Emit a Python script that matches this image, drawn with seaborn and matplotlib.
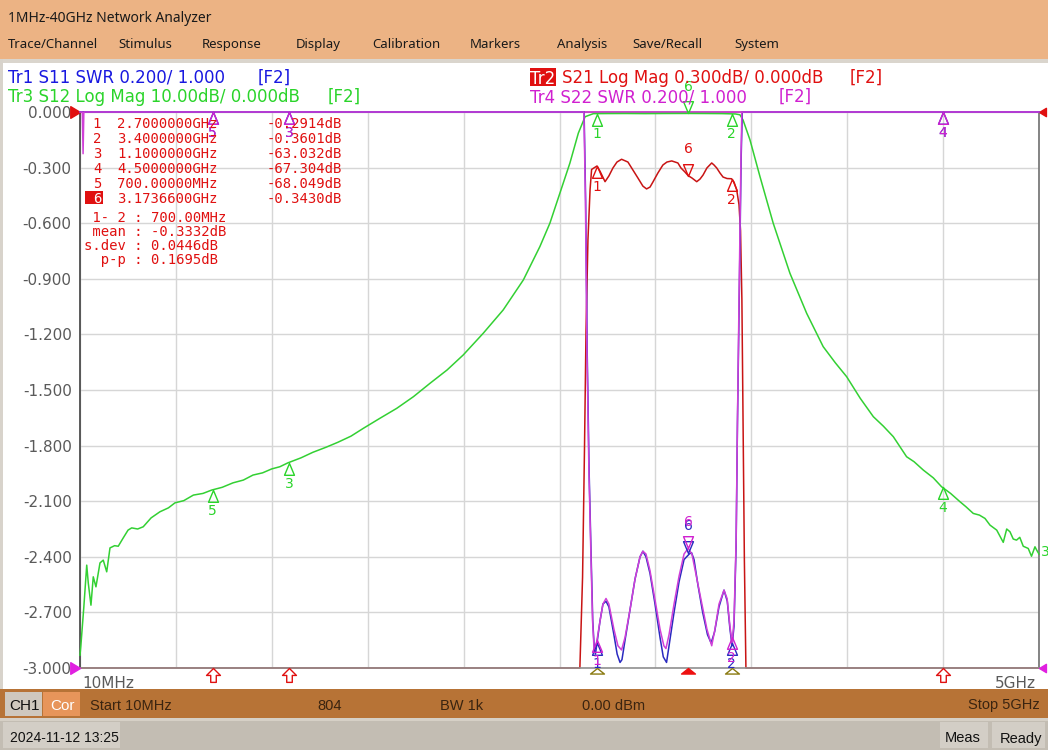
import numpy as np
import matplotlib
matplotlib.use("Agg")
import matplotlib.pyplot as plt
from matplotlib.patches import Rectangle
from matplotlib.path import Path
import seaborn as sns

# ---------------------------
# data
# ---------------------------
# Tr3 S12, Log Mag (dB)
freq_s12 = [0.010, 0.014, 0.030, 0.045, 0.053, 0.067, 0.079, 0.093, 0.114, 0.131,
            0.149, 0.166, 0.190, 0.209, 0.235, 0.260, 0.279, 0.310, 0.339, 0.380,
            0.426, 0.470, 0.504, 0.550, 0.600, 0.650, 0.695, 0.750, 0.806, 0.860,
            0.910, 0.960, 1.007, 1.050, 1.092, 1.160, 1.222, 1.290, 1.352, 1.420,
            1.484, 1.570, 1.658, 1.745, 1.831, 1.920, 2.004, 2.108, 2.212, 2.317,
            2.403, 2.455, 2.507, 2.559, 2.603, 2.638, 2.681, 2.750, 2.850, 2.950,
            3.050, 3.170, 3.250, 3.350, 3.420, 3.444, 3.460, 3.496, 3.548, 3.617,
            3.704, 3.791, 3.877, 3.940, 3.999, 4.070, 4.138, 4.190, 4.242, 4.311,
            4.350, 4.398, 4.450, 4.493, 4.540, 4.589, 4.620, 4.658, 4.690, 4.719,
            4.745, 4.780, 4.814, 4.832, 4.849, 4.866, 4.883, 4.900, 4.918, 4.944,
            4.961, 4.979, 4.988, 5.000]
s12_db = [-97.7, -96.2, -89.0, -81.5, -84.7, -88.7, -83.6, -85.4, -81.1, -80.6,
          -82.7, -78.4, -78.0, -78.1, -76.6, -75.2, -74.8, -75.0, -74.6, -73.0,
          -71.9, -71.2, -70.3, -69.9, -68.9, -68.6, -68.0, -67.5, -66.7, -66.2,
          -65.3, -64.9, -64.2, -63.8, -63.1, -62.2, -61.2, -60.3, -59.4, -58.3,
          -56.9, -55.1, -53.3, -51.2, -48.8, -46.4, -43.7, -39.8, -35.6, -30.2,
          -24.2, -20.0, -14.6, -9.2, -3.8, -0.85, -0.30, -0.28, -0.27, -0.29,
          -0.27, -0.26, -0.27, -0.29, -0.35, -0.5, -1.44, -5.0, -11.6, -20.0,
          -29.0, -36.2, -42.2, -45.1, -47.6, -51.5, -54.8, -56.5, -58.4, -62.0,
          -62.9, -64.4, -65.8, -67.4, -68.6, -70.1, -71.0, -72.2, -72.5, -73.1,
          -74.3, -75.2, -77.4, -75.0, -75.5, -76.8, -77.0, -76.5, -78.1, -78.5,
          -79.9, -78.2, -78.8, -79.5]

# Tr2 S21, Log Mag (dB)
freq_s21 = [0.010, 0.300, 0.700, 1.100, 1.600, 2.000, 2.300, 2.500, 2.580, 2.611,
            2.625, 2.635, 2.643, 2.653, 2.664, 2.672, 2.700, 2.716, 2.742, 2.762,
            2.783, 2.804, 2.828, 2.861, 2.887, 2.913, 2.939, 2.958, 2.976, 2.991,
            3.017, 3.043, 3.064, 3.089, 3.121, 3.137, 3.158, 3.174, 3.194, 3.219,
            3.236, 3.252, 3.272, 3.297, 3.309, 3.323, 3.340, 3.356, 3.377, 3.400,
            3.413, 3.427, 3.439, 3.447, 3.454, 3.460, 3.467, 3.475, 3.520, 3.700,
            4.000, 4.500, 5.000]
s21_db = [-96.0, -75.0, -68.049, -63.032, -55.0, -44.0, -31.0, -17.0, -7.5, -3.0,
          -2.51, -1.82, -1.18, -0.69, -0.42, -0.31, -0.2914, -0.32, -0.376, -0.345,
          -0.302, -0.270, -0.255, -0.270, -0.313, -0.356, -0.400, -0.415, -0.405, -0.378,
          -0.329, -0.286, -0.270, -0.264, -0.275, -0.302, -0.324, -0.343, -0.356, -0.376,
          -0.362, -0.340, -0.302, -0.275, -0.286, -0.302, -0.329, -0.351, -0.359, -0.3601,
          -0.378, -0.420, -0.500, -0.640, -1.01, -1.66, -2.42, -3.0, -9.0, -29.0,
          -48.0, -67.304, -80.0]

# Tr1 S11, SWR
freq_s11 = [0.010, 1.000, 2.000, 2.620, 2.633, 2.641, 2.649, 2.659, 2.670, 2.678,
            2.686, 2.692, 2.700, 2.716, 2.731, 2.747, 2.762, 2.788, 2.805, 2.820,
            2.830, 2.846, 2.872, 2.898, 2.924, 2.939, 2.955, 2.976, 3.002, 3.028,
            3.045, 3.062, 3.075, 3.101, 3.127, 3.153, 3.180, 3.192, 3.205, 3.225,
            3.250, 3.275, 3.294, 3.312, 3.335, 3.361, 3.378, 3.392, 3.403, 3.413,
            3.424, 3.431, 3.440, 3.450, 3.456, 3.470, 4.000, 5.000]
s11_swr = [45.0, 52.0, 38.0, 30.0, 3.6, 2.68, 2.14, 1.71, 1.39, 1.17,
           1.07, 1.05, 1.09, 1.17, 1.23, 1.24, 1.22, 1.12, 1.05, 1.02,
           1.03, 1.10, 1.21, 1.32, 1.40, 1.42, 1.40, 1.34, 1.23, 1.11,
           1.04, 1.02, 1.08, 1.20, 1.31, 1.39, 1.41, 1.415, 1.39, 1.30,
           1.20, 1.12, 1.09, 1.13, 1.22, 1.28, 1.24, 1.14, 1.08, 1.15,
           1.44, 1.88, 2.32, 2.83, 3.1, 30.0, 44.0, 50.0]

# Tr4 S22, SWR
freq_s22 = [0.010, 0.022, 0.026, 0.030, 1.000, 2.000, 2.620, 2.632, 2.640, 2.648,
            2.658, 2.669, 2.677, 2.684, 2.690, 2.700, 2.716, 2.731, 2.747, 2.762,
            2.788, 2.809, 2.828, 2.846, 2.872, 2.898, 2.924, 2.939, 2.955, 2.976,
            3.002, 3.028, 3.048, 3.059, 3.075, 3.101, 3.127, 3.153, 3.174, 3.194,
            3.220, 3.246, 3.272, 3.297, 3.314, 3.335, 3.361, 3.377, 3.392, 3.403,
            3.413, 3.424, 3.431, 3.439, 3.449, 3.454, 3.470, 4.000, 5.000]
s22_swr = [48.0, 46.0, 2.85, 47.0, 55.0, 40.0, 31.0, 3.6, 2.68, 2.14,
           1.71, 1.39, 1.17, 1.08, 1.065, 1.10, 1.17, 1.23, 1.25, 1.23,
           1.14, 1.08, 1.065, 1.11, 1.21, 1.32, 1.40, 1.42, 1.41, 1.35,
           1.245, 1.14, 1.08, 1.07, 1.12, 1.23, 1.33, 1.41, 1.43, 1.41,
           1.32, 1.23, 1.14, 1.08, 1.14, 1.23, 1.28, 1.25, 1.15, 1.09,
           1.17, 1.46, 1.89, 2.32, 2.83, 3.2, 33.0, 45.0, 52.0]

# markers 1..6
marker_ids = ["1", "2", "3", "4", "5", "6"]
marker_freq = [2.7, 3.4, 1.1, 4.5, 0.7, 3.17366]
marker_s21 = [-0.2914, -0.3601, -63.032, -67.304, -68.049, -0.3430]
marker_s12 = [-0.29, -0.29, -63.1, -67.4, -68.0, -0.26]
marker_s11 = [1.09, 1.09, 52.0, 44.0, 47.0, 1.415]
marker_s22 = [1.10, 1.11, 55.0, 45.0, 48.0, 1.43]

marker_freq_txt = ["2.7000000GHz", "3.4000000GHz", "1.1000000GHz",
                   "4.5000000GHz", "700.00000MHz", "3.1736600GHz"]
marker_val_txt = ["-0.2914dB", "-0.3601dB", "-63.032dB",
                  "-67.304dB", "-68.049dB", "-0.3430dB"]
stats_txt = [" 1- 2 : 700.00MHz", " mean : -0.3332dB",
             "s.dev : 0.0446dB", "  p-p : 0.1695dB"]

y_tick_labels = ["-3.000", "-2.700", "-2.400", "-2.100", "-1.800", "-1.500",
                 "-1.200", "-0.900", "-0.600", "-0.300", "0.000"]
menu_items = ["Trace/Channel", "Stimulus", "Response", "Display", "Calibration",
              "Markers", "Analysis", "Save/Recall", "System"]
menu_x = [8, 118, 202, 296, 372, 470, 557, 632, 734]

f_start, f_stop = 0.01, 5.0

# ---------------------------
# colours / helpers
# ---------------------------
W, H = 1048, 750
TITLE_BG = "#ECB384"
STATUS_BG = "#B77336"
BOTTOM_BG = "#C3BDB3"
TR_BLUE = "#2a2ac0"
TR_RED = "#c81414"
TR_GREEN = "#33d033"
TR_MAG = "#d040d8"
TX_BLUE = "#1818e0"
TX_RED = "#e01010"
TX_GREEN = "#2ad42a"
TX_MAG = "#d020d0"
UI_FONT = "Noto Sans"
STAT_FONT = "Liberation Sans"


def fx(x):
    return x / W


def fy(y):
    return 1 - y / H


fig = plt.figure(figsize=(W / 100, H / 100), dpi=100)
fig.patch.set_facecolor("white")


def box(x0, y0, x1, y1, color, zo=1):
    fig.add_artist(Rectangle((fx(x0), fy(y1)), (x1 - x0) / W, (y1 - y0) / H,
                             transform=fig.transFigure, facecolor=color,
                             edgecolor="none", zorder=zo))


def ftext(x, y, s, color="black", size=10, family="DejaVu Sans", ha="left", **kw):
    fig.text(fx(x), fy(y), s, color=color, fontsize=size, family=family,
             ha=ha, va="center_baseline", zorder=5, **kw)


# ---------------------------
# plot area: Tr2 on the main axes, others on twins
# ---------------------------
ax = fig.add_axes([fx(80), fy(668), (1039 - 80) / W, (668 - 112) / H])
ax.set_xlim(f_start, f_stop)
ax.set_ylim(-3.0, 0.0)
ax.set_xticks(np.linspace(f_start, f_stop, 11))
ax.set_yticks(np.linspace(-3.0, 0.0, 11))
ax.set_yticklabels(y_tick_labels, color="#5a5a5a", fontsize=11)
ax.tick_params(axis="y", length=0, pad=6)
ax.tick_params(axis="x", length=0, labelbottom=False)
ax.grid(True, color="#d6d6d6", lw=1)
ax.set_axisbelow(True)
ax.spines["left"].set_color("#404040")
ax.spines["right"].set_color("#707070")
ax.spines["top"].set_color("#c426c4")
ax.spines["bottom"].set_color("#909090")
for sp in ax.spines.values():
    sp.set_linewidth(1.2)

s12ax = ax.twinx()
s12ax.set_ylim(-100, 0)
s12ax.axis("off")
swrax = ax.twinx()
swrax.set_ylim(1.0, 3.0)
swrax.axis("off")

kw = dict(estimator=None, sort=False, legend=False, lw=1.1, clip_on=False)
sns.lineplot(x=freq_s21, y=np.clip(s21_db, -3.0, 0.0), ax=ax, color=TR_RED, **kw)
sns.lineplot(x=freq_s12, y=np.clip(s12_db, -100, 0), ax=s12ax, color=TR_GREEN, **kw)
sns.lineplot(x=freq_s11, y=np.clip(s11_swr, 1.0, 3.0), ax=swrax, color=TR_BLUE, **kw)
sns.lineplot(x=freq_s22, y=np.clip(s22_swr, 1.0, 3.0), ax=swrax, color=TR_MAG, **kw)

# marker glyphs
TRI_DN = Path([(0, 0), (-0.42, -1), (0.42, -1), (0, 0)], closed=True)   # body below point
TRI_UP = Path([(0, 0), (-0.42, 1), (0.42, 1), (0, 0)], closed=True)     # body above point
ARROW = Path([(0, 0), (-0.5, -0.5), (-0.2, -0.5), (-0.2, -1), (0.2, -1),
              (0.2, -0.5), (0.5, -0.5), (0, 0)], closed=True)
FLAT = Path([(0, 0), (-1, -0.8), (1, -0.8), (0, 0)], closed=True)


def draw_markers(a, values, lo, hi, color, below_arrow=False):
    for num, f, v in zip(marker_ids, marker_freq, values):
        vc = min(max(v, lo), hi)
        if below_arrow and v < lo:
            a.plot([f], [lo], marker=ARROW, ms=20, mfc="none", mec=color,
                   mew=1, ls="none", clip_on=False, zorder=6)
            a.annotate(num, (f, lo), xytext=(0, -20), textcoords="offset points",
                       ha="center", va="center", color=color, fontsize=10,
                       annotation_clip=False, zorder=6)
        elif num == "6":
            a.plot([f], [vc], marker=TRI_UP, ms=17, mfc="none", mec=color,
                   mew=1, ls="none", clip_on=False, zorder=6)
            a.annotate(num, (f, vc), xytext=(0, 19), textcoords="offset points",
                       ha="center", va="center", color=color, fontsize=10,
                       annotation_clip=False, zorder=6)
        else:
            a.plot([f], [vc], marker=TRI_DN, ms=17, mfc="none", mec=color,
                   mew=1, ls="none", clip_on=False, zorder=6)
            a.annotate(num, (f, vc), xytext=(0, -15), textcoords="offset points",
                       ha="center", va="center", color=color, fontsize=10,
                       annotation_clip=False, zorder=6)


draw_markers(ax, marker_s21, -3.0, 0.0, TX_RED, below_arrow=True)
draw_markers(s12ax, marker_s12, -100, 0, TX_GREEN)
draw_markers(swrax, marker_s11, 1.0, 3.0, TR_BLUE)
draw_markers(swrax, marker_s22, 1.0, 3.0, TX_MAG)

# marker position flags on the x axis
for num, f in zip(marker_ids, marker_freq):
    if num in ("1", "2"):
        ax.plot([f], [-3.0], marker=FLAT, ms=10, mfc="none", mec="#8a7a10",
                mew=1, ls="none", clip_on=False, zorder=7)
    elif num == "6":
        ax.plot([f], [-3.0], marker=FLAT, ms=10, mfc="#ee1010", mec="#ee1010",
                ls="none", clip_on=False, zorder=7)

# reference position arrows
REF_R = Path([(0, 0), (-1, 0.6), (-1, -0.6), (0, 0)], closed=True)
REF_L = Path([(0, 0), (1, 0.6), (1, -0.6), (0, 0)], closed=True)
ax.plot([0], [1], marker=REF_R, ms=14, color="#e01010", transform=ax.transAxes,
        clip_on=False, zorder=7)
ax.plot([0], [0], marker=REF_R, ms=14, color="#e020e0", transform=ax.transAxes,
        clip_on=False, zorder=7)
ax.plot([1], [1], marker=REF_L, ms=10, color="#e01010", transform=ax.transAxes,
        clip_on=False, zorder=7)
ax.plot([1], [0], marker=REF_L, ms=10, color="#e020e0", transform=ax.transAxes,
        clip_on=False, zorder=7)
ftext(1041, 550, "3", color=TX_GREEN, size=10)

# start / stop labels inside the grid
ftext(82, 682, "10MHz", color="#5a5a5a", size=11)
ftext(1036, 682, "5GHz", color="#5a5a5a", size=11, ha="right")

# ---------------------------
# window chrome
# ---------------------------
box(0, 0, W, 59, TITLE_BG)
box(0, 59, W, 63, "#DAD5CD")
box(0, 59, 3, 690, "#D8D3CB")
box(0, 689, W, 718, STATUS_BG)
box(0, 718, W, 721, "#D6D0C6")
box(0, 721, W, H, BOTTOM_BG)
box(5, 692, 42, 716, "#CFC8BE", zo=2)
box(43, 692, 80, 716, "#E7955A", zo=2)
box(3, 722, 120, 748, "#D3CEC6", zo=2)
box(940, 722, 988, 748, "#D3CEC6", zo=2)
box(992, 722, 1045, 748, "#D3CEC6", zo=2)

ftext(8, 16, "1MHz-40GHz Network Analyzer", size=10, family=UI_FONT, color="#1a1a1a")
for name, x in zip(menu_items, menu_x):
    ftext(x, 43, name, size=9.5, family=UI_FONT, color="#1a1a1a")

ftext(9, 704, "CH1", size=11, family=STAT_FONT, color="#111111")
ftext(50, 704, "Cor", size=11, family=STAT_FONT, color="white")
ftext(90, 704, "Start 10MHz", size=10.5, family=STAT_FONT, color="#3a2410")
ftext(317, 704, "804", size=10.5, family=STAT_FONT, color="#3a2410")
ftext(440, 704, "BW 1k", size=10.5, family=STAT_FONT, color="#3a2410")
ftext(582, 704, "0.00 dBm", size=10.5, family=STAT_FONT, color="#3a2410")
ftext(1040, 704, "Stop 5GHz", size=10.5, family=STAT_FONT, color="#3a2410", ha="right")
ftext(10, 737, "2024-11-12 13:25", size=10, family=STAT_FONT, color="#111111")
ftext(945, 737, "Meas", size=10.5, family=STAT_FONT, color="#111111")
ftext(1000, 737, "Ready", size=10.5, family=STAT_FONT, color="#111111")

# trace headers
ftext(8, 76, "Tr1 S11 SWR 0.200/ 1.000", color=TX_BLUE, size=12)
ftext(258, 76, "[F2]", color=TX_BLUE, size=12)
ftext(8, 95, "Tr3 S12 Log Mag 10.00dB/ 0.000dB", color=TX_GREEN, size=12)
ftext(328, 95, "[F2]", color=TX_GREEN, size=12)
box(530, 68, 556, 86, "#e01010", zo=2)
ftext(530, 77, "Tr2", color="white", size=12)
ftext(562, 76, "S21 Log Mag 0.300dB/ 0.000dB", color=TX_RED, size=12)
ftext(850, 76, "[F2]", color=TX_RED, size=12)
ftext(530, 95, "Tr4 S22 SWR 0.200/ 1.000", color=TX_MAG, size=12)
ftext(779, 95, "[F2]", color=TX_MAG, size=12)

# marker readout table
MONO = "DejaVu Sans Mono"
for i, (num, ft, vt) in enumerate(zip(marker_ids, marker_freq_txt, marker_val_txt)):
    y = 122.5 + 15 * i
    if num == "6":
        box(85, y - 6.5, 103, y + 6.5, "#e01010", zo=4)
        ftext(97, y, num, color="white", size=10, family=MONO, ha="center")
    else:
        ftext(97, y, num, color=TX_RED, size=10, family=MONO, ha="center")
    ftext(117, y, ft, color=TX_RED, size=10, family=MONO)
    ftext(267, y, vt, color=TX_RED, size=10, family=MONO)
for i, st in enumerate(stats_txt):
    ftext(84, 216.5 + 14 * i, st, color=TX_RED, size=10, family=MONO)

fig.savefig("out.png", dpi=100, facecolor=fig.get_facecolor())
